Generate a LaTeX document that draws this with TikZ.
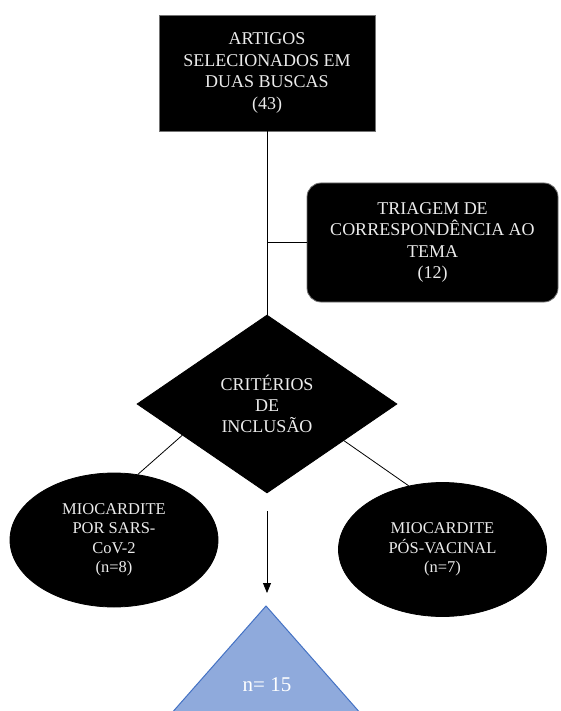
\documentclass[tikz,border=0pt]{standalone}
\usepackage{fontspec}
\setmainfont{Liberation Serif}
\usetikzlibrary{shapes.geometric,arrows.meta,calc}
\definecolor{triblue}{HTML}{8FAADC}
\definecolor{triedge}{HTML}{4472C4}
\tikzset{
  darkbox/.style={fill=black, draw=black!55, line width=0.8pt, text=black!8, align=center, inner sep=0pt,
    font=\fontsize{18}{21.5}\selectfont},
  decision/.style={darkbox, draw=black, shape=diamond, minimum width=260pt, minimum height=178pt,
    font=\fontsize{18}{21}\selectfont},
  leaf/.style={darkbox, draw=black, shape=ellipse, minimum width=208pt, minimum height=134pt,
    font=\fontsize{16.5}{19.5}\selectfont},
}
\begin{document}
\begin{tikzpicture}[x=1pt, y=-1pt, line width=0.8pt]
  \useasboundingbox (0,0) rectangle (560,711);
  \clip (0,0) rectangle (560,711);
  % boxes
  \node[darkbox, minimum width=216pt, minimum height=116pt] (artigos) at (267,73) {ARTIGOS\\SELECIONADOS EM\\DUAS BUSCAS\\(43)};
  \node[darkbox, rounded corners=14pt, minimum width=251pt, minimum height=119pt] (triagem) at (432.5,242.5) {TRIAGEM DE\\CORRESPONDÊNCIA AO\\TEMA\\(12)};
  \node[decision] (criterios) at (267,404) {CRITÉRIOS\\DE\\INCLUSÃO};
  \node[leaf] (sars) at (114,540) {MIOCARDITE\\POR SARS-\\CoV-2\\(n=8)};
  \node[leaf] (vacinal) at (442.5,549.5) {MIOCARDITE\\PÓS-VACINAL\\(n=7)};
  % total
  \coordinate (apex) at (266,606);
  \filldraw[fill=triblue, draw=triedge, line width=1pt] (apex) -- ++(-118,134) -- ++(236,0) -- cycle;
  \node[text=white, font=\fontsize{21}{24}\selectfont] (total) at (267,685) {n= 15};
  % connectors
  \coordinate (arrowtop) at (267,511); \coordinate (arrowtip) at (267,593);
  \draw (artigos.south) -- (criterios.north);
  \draw (triagem.west) -- (triagem.west -| artigos.south);
  \draw ($(criterios.west)!0.35!(criterios.south)$) -- (sars.70);
  \draw ($(criterios.east)!0.41!(criterios.south)$) -- (vacinal.118);
  \draw[-{Triangle[length=10pt,width=8pt]}] (arrowtop) -- (arrowtip);
\end{tikzpicture}
\end{document}
